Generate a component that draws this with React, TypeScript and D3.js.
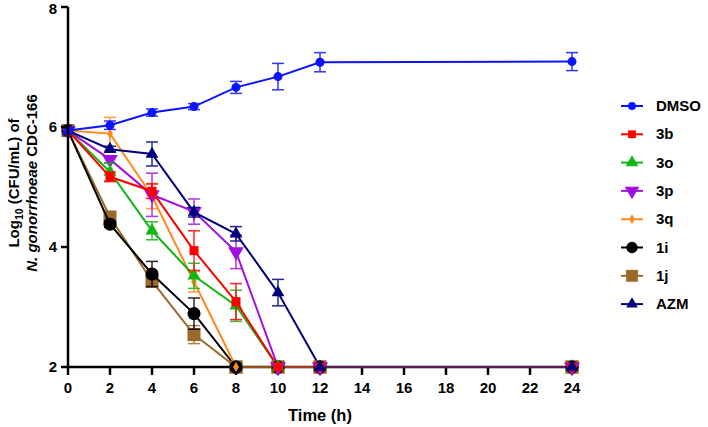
import * as d3 from 'd3';

// time points (h)
const times = [0, 2, 4, 6, 8, 10, 12, 24];
const xTicks = [0, 2, 4, 6, 8, 10, 12, 14, 16, 18, 20, 22, 24];
const yTicks = [2, 4, 6, 8];

const names = ['DMSO', '3b', '3o', '3p', '3q', '1i', '1j', 'AZM'];

const dmso = [5.94, 6.03, 6.24, 6.34, 6.66, 6.84, 7.08, 7.09];
const dmsoErr = [0.05, 0.07, 0.06, 0.05, 0.1, 0.22, 0.16, 0.15];
const s3b = [5.94, 5.17, 4.93, 3.94, 3.09, 2, 2, 2];
const s3bErr = [0.05, 0.08, 0.12, 0.33, 0.3, 0, 0, 0];
const s3o = [5.94, 5.25, 4.27, 3.52, 3.02, 2, 2, 2];
const s3oErr = [0.05, 0.15, 0.15, 0.21, 0.26, 0, 0, 0];
const s3p = [5.94, 5.46, 4.87, 4.59, 3.92, 2, 2, 2];
const s3pErr = [0.05, 0.06, 0.36, 0.21, 0.28, 0, 0, 0];
const s3q = [5.94, 5.89, 4.85, 3.42, 2, 2, 2, 2];
const s3qErr = [0.05, 0.27, 0.21, 0.17, 0, 0, 0, 0];
const s1i = [5.94, 4.38, 3.55, 2.89, 2, 2, 2, 2];
const s1iErr = [0.05, 0.05, 0.21, 0.26, 0, 0, 0, 0];
const s1j = [5.94, 4.5, 3.43, 2.54, 2, 2, 2, 2];
const s1jErr = [0.05, 0.08, 0.1, 0.15, 0, 0, 0, 0];
const azm = [5.94, 5.63, 5.55, 4.58, 4.22, 3.24, 2, 2];
const azmErr = [0.05, 0.05, 0.2, 0.08, 0.12, 0.22, 0, 0];

const values = [dmso, s3b, s3o, s3p, s3q, s1i, s1j, azm];
const errors = [dmsoErr, s3bErr, s3oErr, s3pErr, s3qErr, s1iErr, s1jErr, azmErr];

const colors = ['#0a14ff', '#ff0000', '#12b512', '#a010e0', '#ff8a1a', '#000000', '#9a6a2a', '#00007f'];
const shapes = [d3.symbolCircle, d3.symbolSquare, d3.symbolTriangle, d3.symbolTriangle, d3.symbolDiamond, d3.symbolCircle, d3.symbolSquare, d3.symbolTriangle];
const sizes = [64, 81, 75, 105, 30, 135, 170, 70];
const legendSizes = [50, 60, 70, 90, 28, 100, 140, 60];
const flipped = [false, false, false, true, false, false, false, false];

// draw order (back to front)
const drawOrder = [6, 5, 4, 3, 2, 1, 7, 0];

const font = 'Arial, "Liberation Sans", sans-serif';

export default function App() {
  const x = d3.scaleLinear().domain([0, 24]).range([68, 572]);
  const y = d3.scaleLinear().domain([2, 8]).range([367, 7]);

  const line = d3.line<number>()
    .x((_d, i) => x(times[i]))
    .y(d => y(d));

  const sym = (k: number, s: number) => d3.symbol().type(shapes[k]).size(s)() || '';

  return (
    <svg width={708} height={427} style={{ position: 'absolute', left: 0, top: 0, background: '#fff' }}
      fontFamily={font}>
      {/* series */}
      {drawOrder.map(k => (
        <g key={names[k]}>
          <path d={line(values[k]) || ''} fill="none" stroke={colors[k]} strokeWidth={2} />
          {values[k].map((v, i) => errors[k][i] > 0 ? (
            <g key={i} stroke={colors[k]} strokeWidth={1.5} opacity={0.85}>
              <line x1={x(times[i])} x2={x(times[i])} y1={y(v - errors[k][i])} y2={y(v + errors[k][i])} />
              <line x1={x(times[i]) - 6} x2={x(times[i]) + 6} y1={y(v - errors[k][i])} y2={y(v - errors[k][i])} />
              <line x1={x(times[i]) - 6} x2={x(times[i]) + 6} y1={y(v + errors[k][i])} y2={y(v + errors[k][i])} />
            </g>
          ) : null)}
          {values[k].map((v, i) => (
            <path key={'m' + i} d={sym(k, sizes[k])} fill={colors[k]}
              transform={`translate(${x(times[i])},${y(v)})${flipped[k] ? ' rotate(180)' : ''}`} />
          ))}
        </g>
      ))}

      {/* axes */}
      <g stroke="#000" strokeWidth={2.5}>
        <line x1={x(0)} x2={x(0)} y1={y(2) + 1} y2={y(8)} />
        <line x1={x(0) - 1} x2={x(24) + 1} y1={y(2)} y2={y(2)} />
        {yTicks.map(t => <line key={'yt' + t} x1={x(0) - 7} x2={x(0)} y1={y(t)} y2={y(t)} />)}
        {xTicks.map(t => <line key={'xt' + t} x1={x(t)} x2={x(t)} y1={y(2)} y2={y(2) + 8} />)}
      </g>
      {/* series segments lying on the x axis, drawn over it */}
      {drawOrder.map(k => {
        const idx = values[k].findIndex(v => v === 2);
        if (idx < 0) return null;
        return <line key={'f' + k} x1={x(times[idx])} x2={x(24)} y1={y(2)} y2={y(2)} stroke={colors[k]} strokeWidth={1.2} />;
      })}
      {drawOrder.map(k => values[k].map((v, i) => v === 2 ? (
        <path key={'fm' + k + i} d={sym(k, sizes[k])} fill={colors[k]}
          transform={`translate(${x(times[i])},${y(v)})${flipped[k] ? ' rotate(180)' : ''}`} />
      ) : null))}

      <g fontSize={15} fontWeight="bold" fill="#000">
        {yTicks.map(t => (
          <text key={'yl' + t} x={x(0) - 11} y={y(t) + (t === 8 ? 1.5 : 0)} dy="0.36em" textAnchor="end">{t}</text>
        ))}
        {xTicks.map(t => (
          <text key={'xl' + t} x={x(t)} y={393} textAnchor="middle">{t}</text>
        ))}
      </g>
      <text x={(x(0) + x(24)) / 2} y={421} textAnchor="middle" fontSize={16.5} fontWeight="bold">Time (h)</text>

      <g transform="translate(19,183) rotate(-90)" fontSize={15} fontWeight="bold">
        <text x={0} y={0} textAnchor="middle">
          Log<tspan fontSize={10.5} dy={4}>10</tspan><tspan dy={-4}> (CFU/mL) of</tspan>
        </text>
        <text x={0} y={18} textAnchor="middle">
          <tspan fontStyle="italic">N. gonorrhoeae</tspan> CDC-166
        </text>
      </g>

      {/* legend */}
      {names.map((n, k) => {
        const ly = 106 + k * 28.3;
        return (
          <g key={'lg' + n}>
            <line x1={621} x2={643} y1={ly} y2={ly} stroke={colors[k]} strokeWidth={2} />
            <path d={sym(k, legendSizes[k])} fill={colors[k]}
              transform={`translate(632,${ly})${flipped[k] ? ' rotate(180)' : ''}`} />
            <text x={656} y={ly + 5} fontSize={15} fontWeight="bold">{n}</text>
          </g>
        );
      })}
    </svg>
  );
}
